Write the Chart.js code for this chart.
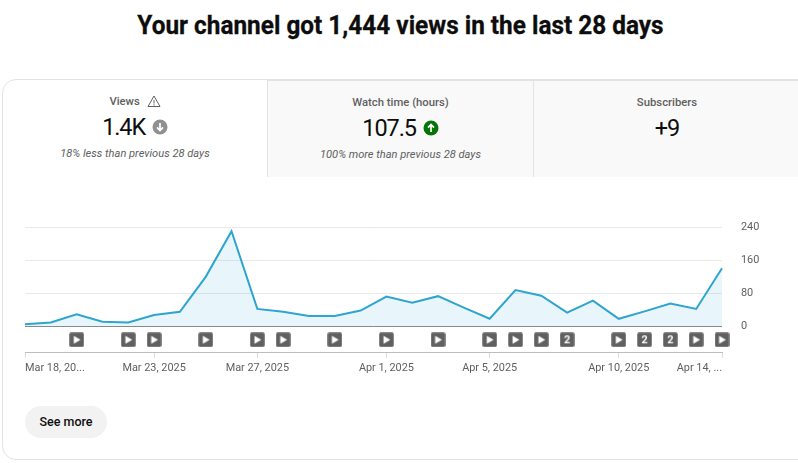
<!DOCTYPE html>
<html><head><meta charset="utf-8">
<script src="https://cdn.jsdelivr.net/npm/chart.js@4"></script>
<style>
html,body{margin:0;padding:0;background:#fff;width:798px;height:463px;overflow:hidden;font-family:Roboto,sans-serif}
#title{position:absolute;left:0;top:8px;width:801px;text-align:center;font-size:26px;line-height:34px;font-weight:700;color:#0d0d0d;-webkit-text-stroke:.3px #0d0d0d;white-space:nowrap;transform:scaleX(.937)}
#card{position:absolute;left:2px;top:79px;width:810px;height:381px;box-sizing:border-box;border:1px solid #e3e3e3;border-radius:14px;overflow:hidden}
#clip{position:absolute;left:0;top:0;width:798px;height:463px;overflow:hidden}
.tab{position:absolute;top:80px;height:97px;text-align:center;box-sizing:border-box}
.tab.off{background:#f9f9f9}
.lbl{position:absolute;left:0;right:0;top:14px;font-size:11.3px;line-height:16px;font-weight:500;color:#606060}
.val{position:absolute;left:0;right:0;top:31px;font-size:23.5px;line-height:32px;letter-spacing:-1.1px;color:#0d0d0d}
.sub{position:absolute;left:0;right:0;top:66px;font-size:11.1px;line-height:15px;font-style:italic;color:#606060}
svg{vertical-align:middle}
#wrap{position:absolute;left:0;top:190px;width:798px;height:190px}
#btn{position:absolute;left:25px;top:406px;width:82px;height:32px;border-radius:16px;background:#f2f2f2;text-align:center;font-size:12.5px;line-height:32px;font-weight:500;color:#0d0d0d}
</style></head><body>
<div id="title">Your channel got 1,444 views in the last 28 days</div>
<div id="clip">
<div class="tab off" style="left:267px;width:266px;border-left:1px solid #e3e3e3;border-top:1px solid #e3e3e3"><div class="lbl">Watch time (hours)</div>
<div class="val">107.5 <svg width="16" height="16" viewBox="0 0 16 16" style="margin:-3px 0 0 2px"><circle cx="8" cy="8" r="7.5" fill="#067306"/><path d="M8 12V5M5 7.6L8 4.5L11 7.6" stroke="#fff" stroke-width="1.7" fill="none"/></svg></div>
<div class="sub">100% more than previous 28 days</div></div>
<div class="tab off" style="left:533px;width:267px;border-left:1px solid #e3e3e3;border-top:1px solid #e3e3e3"><div class="lbl">Subscribers</div><div class="val">+9</div></div>
<div id="card"></div>
<div class="tab" style="left:3px;width:264px"><div class="lbl">Views <svg width="14" height="14" viewBox="0 0 14 14" style="margin:-2px 0 0 4px"><path d="M7 2L13 12.5H1Z" fill="none" stroke="#606060" stroke-width="1"/><path d="M7 6V9.5M7 10.3V11.5" stroke="#606060" stroke-width="1"/></svg></div>
<div class="val">1.4K <svg width="16" height="16" viewBox="0 0 16 16" style="margin:-3px 0 0 2px"><circle cx="8" cy="8" r="7.5" fill="#909090"/><path d="M8 4V11M5 8.4L8 11.5L11 8.4" stroke="#fff" stroke-width="1.7" fill="none"/></svg></div>
<div class="sub">18% less than previous 28 days</div></div>
</div>
<div id="wrap"><canvas id="c"></canvas></div>
<div id="btn">See more</div>
<script>
const dates = ["Mar 18, 2025","Mar 19, 2025","Mar 20, 2025","Mar 21, 2025","Mar 22, 2025","Mar 23, 2025","Mar 24, 2025","Mar 25, 2025","Mar 26, 2025","Mar 27, 2025","Mar 28, 2025","Mar 29, 2025","Mar 30, 2025","Mar 31, 2025","Apr 1, 2025","Apr 2, 2025","Apr 3, 2025","Apr 4, 2025","Apr 5, 2025","Apr 6, 2025","Apr 7, 2025","Apr 8, 2025","Apr 9, 2025","Apr 10, 2025","Apr 11, 2025","Apr 12, 2025","Apr 13, 2025","Apr 14, 2025"];
const views = [5,9,29,11,9,27,35,120,231,42,35,25,25,38,72,57,73,45,18,88,74,33,62,18,36,55,42,141];
const videosPublished = [0,0,1,0,1,1,0,1,0,1,1,0,1,0,1,0,1,0,1,1,1,2,0,1,2,2,1,1];
const xTickIndex = [0,5,9,14,18,23,27];
const xTickText = {0:"Mar 18, 20...",5:"Mar 23, 2025",9:"Mar 27, 2025",14:"Apr 1, 2025",18:"Apr 5, 2025",23:"Apr 10, 2025",27:"Apr 14, ..."};
const yTicks = [0,80,160,240];
const markerLane = -33;

function icon(n){
  const r = 2, s = 15, d = 2;
  const cv = document.createElement('canvas');
  cv.width = s*d; cv.height = s*d; cv.style.width = s+'px'; cv.style.height = s+'px';
  const g = cv.getContext('2d'); g.scale(d,d);
  g.fillStyle = '#606060'; g.beginPath(); g.roundRect(0.25,0.25,14.5,14.5,r); g.fill();
  g.fillStyle = '#fff';
  if(n === 1){ g.beginPath(); g.moveTo(4.6,3.5); g.lineTo(11.4,7.5); g.lineTo(4.6,11.5); g.closePath(); g.fill(); }
  else { g.font = '700 11px Roboto'; g.textAlign='center'; g.textBaseline='middle'; g.fillText(String(n),7.5,8); }
  return cv;
}
const scaled = c => { const o = document.createElement('canvas'); o.width=15;o.height=15; o.getContext('2d').drawImage(c,0,0,15,15); return o; };
const icons = {1:scaled(icon(1)),2:scaled(icon(2))};

const edgeAlign = {
  id:'edgeAlign',
  beforeDraw(chart){
    const items = chart.scales.x.getLabelItems(chart.chartArea);
    if(items.length){ items[0].options.textAlign='left'; items[items.length-1].options.textAlign='right'; }
  }
};
new Chart(document.getElementById('c'),{
  type:'line',
  data:{labels:dates,datasets:[
    {data:views,borderColor:'#2ea5cf',borderWidth:2,backgroundColor:'rgba(46,165,207,0.11)',fill:'origin',tension:0,pointRadius:0,borderJoinStyle:'miter',order:2},
    {data:videosPublished.map(n=>n?markerLane:null),showLine:false,clip:false,order:1,
     pointStyle:ctx=>icons[videosPublished[ctx.dataIndex]]||false,pointRadius:7,pointHoverRadius:7}
  ]},
  plugins:[edgeAlign],
  options:{
    responsive:true,maintainAspectRatio:false,animation:false,events:[],
    layout:{padding:{left:25,top:37.5,right:0,bottom:1}},
    plugins:{legend:{display:false},tooltip:{enabled:false}},
    scales:{
      x:{type:'category',offset:false,
        border:{color:'#bdbdbd',width:1},
        grid:{drawOnChartArea:false,color:'#dddddd',tickLength:5},
        ticks:{autoSkip:false,maxRotation:0,minRotation:0,padding:4,color:'#606060',font:{family:'Roboto',size:10.9},
          callback(v){return xTickText[v];}},
        afterBuildTicks(s){s.ticks=xTickIndex.map(i=>({value:i}));},
        afterFit(s){s.paddingLeft=0;s.paddingRight=0;}
      },
      y:{position:'right',min:-65,max:240,
        border:{display:false},
        grid:{drawTicks:false,tickLength:0,lineWidth:1,color:c=>c.tick.value===0?'#8a8a8a':'#e9e9e9'},
        ticks:{padding:19,color:'#606060',font:{family:'Roboto',size:10.9},callback:v=>String(v)},
        afterBuildTicks(s){s.ticks=yTicks.map(v=>({value:v}));},
        afterFit(s){s.width=76;}
      }
    }
  }
});
</script>
</body></html>
